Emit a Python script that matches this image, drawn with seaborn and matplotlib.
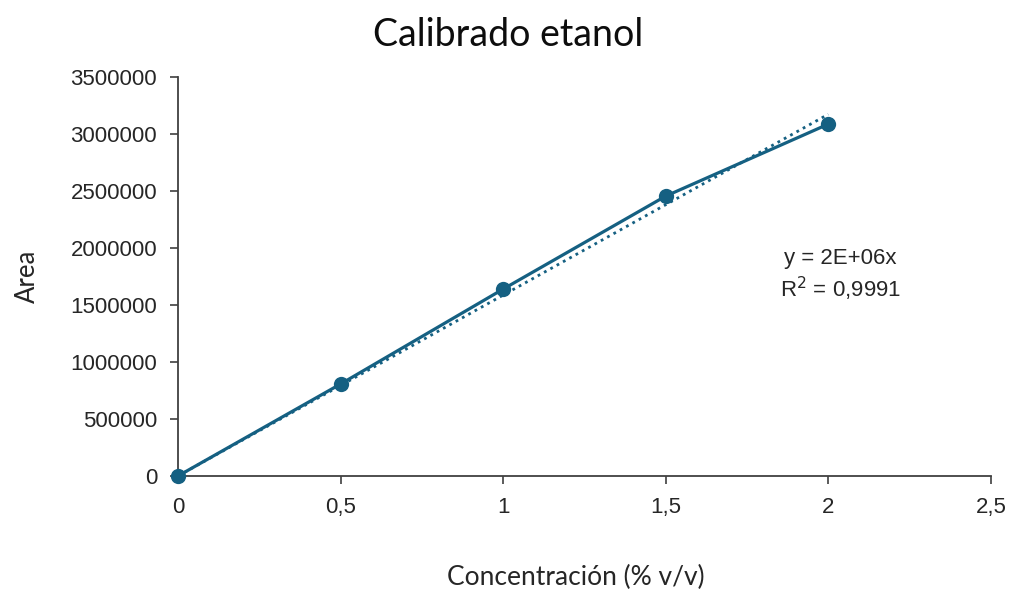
import numpy as np
import pandas as pd
import matplotlib
matplotlib.use("Agg")
import matplotlib.pyplot as plt
import seaborn as sns

# Calibration data: ethanol concentration (% v/v) vs. peak area
concentracion = [0.0, 0.5, 1.0, 1.5, 2.0]
area = [0, 807000, 1640000, 2456000, 3088000]

x_ticks = [0, 0.5, 1, 1.5, 2, 2.5]
x_tick_labels = ["0", "0,5", "1", "1,5", "2", "2,5"]
y_ticks = [0, 500000, 1000000, 1500000, 2000000, 2500000, 3000000, 3500000]
y_tick_labels = [str(v) for v in y_ticks]

equation_label = "y = 2E+06x"
r2_label = "R$^2$ = 0,9991"

color = "#156082"
axis_color = "#404040"
text_color = "#262626"

sns.set_theme(style="white")
plt.rcParams["font.family"] = ["Liberation Sans", "DejaVu Sans"]

df = pd.DataFrame({"Concentración": concentracion, "Area": area})

# Linear trendline forced through the origin (least squares)
xa = np.array(concentracion)
ya = np.array(area, dtype=float)
slope = (xa * ya).sum() / (xa * xa).sum()
trend = pd.DataFrame({"x": [0.0, 2.0]})
trend["y"] = slope * trend["x"]

fig = plt.figure(figsize=(10.09, 5.89), dpi=100)
ax = fig.add_axes([0.1764, 0.1919, 0.982 - 0.1764, 0.869 - 0.1919])

sns.lineplot(data=trend, x="x", y="y", ax=ax, color=color, linewidth=2.0,
             linestyle=(0, (1, 1.6)), zorder=2)
sns.lineplot(data=df, x="Concentración", y="Area", ax=ax, color=color,
             linewidth=2.3, marker="o", markersize=11, markeredgewidth=0,
             zorder=3, clip_on=False)

ax.set_xlim(0, 2.5)
ax.set_ylim(0, 3500000)
ax.set_xticks(x_ticks)
ax.set_xticklabels(x_tick_labels)
ax.set_yticks(y_ticks)
ax.set_yticklabels(y_tick_labels)

for side in ["top", "right"]:
    ax.spines[side].set_visible(False)
for side in ["left", "bottom"]:
    ax.spines[side].set_color(axis_color)
    ax.spines[side].set_linewidth(1.3)

ax.tick_params(axis="both", which="major", direction="out", length=6,
               width=1.2, color=axis_color, labelsize=16,
               labelcolor=text_color, bottom=True, left=True)
ax.tick_params(axis="x", pad=9)
ax.tick_params(axis="y", pad=9)

label_font = ["Lato", "DejaVu Sans"]
ax.set_xlabel("Concentración (% v/v)", fontsize=19, color=text_color,
              family=label_font)
ax.xaxis.set_label_coords(0.49, -0.222)
ax.set_ylabel("Area", fontsize=18.5, color=text_color, family=label_font,
              labelpad=22)
fig.text(0.5035, 0.94, "Calibrado etanol", ha="center", va="center",
         fontsize=27, color="#0d0d0d", family=label_font)

ax.text(2.037, 1910000, equation_label, ha="center", va="center",
        fontsize=16, color=text_color)
ax.text(2.037, 1640000, r2_label, ha="center", va="center",
        fontsize=16, color=text_color)

ax.grid(False)
fig.savefig("out.png", dpi=100)
